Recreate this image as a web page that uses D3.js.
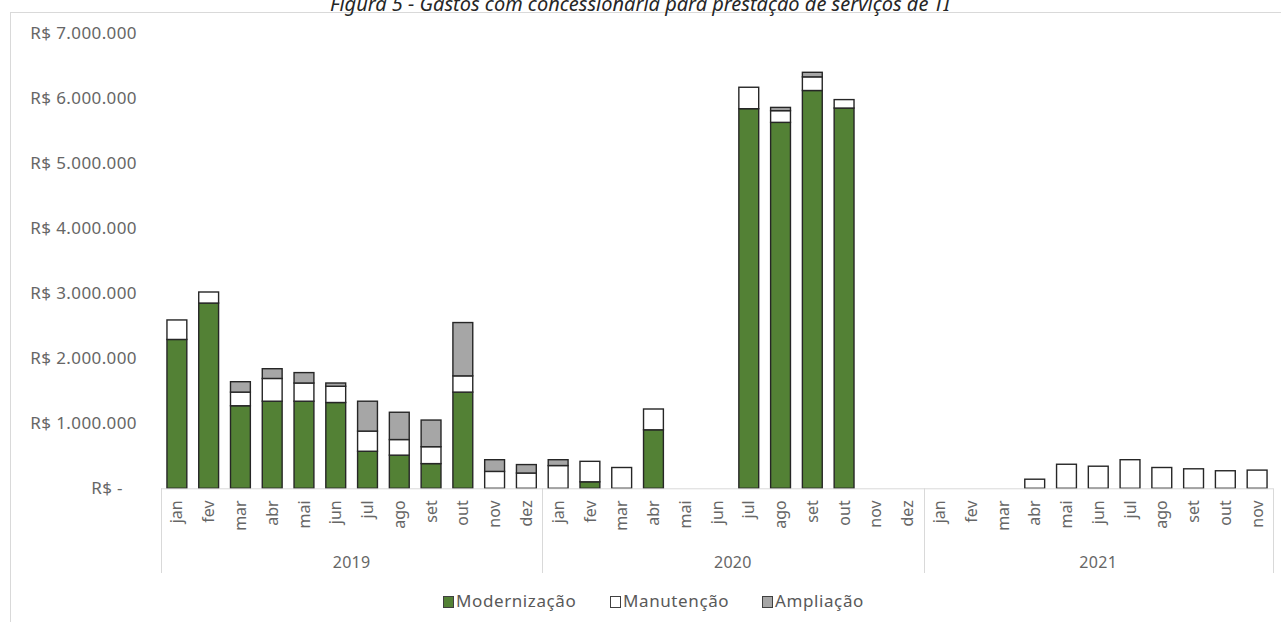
<!DOCTYPE html>
<html>
<head>
<meta charset="utf-8">
<script src="https://cdn.jsdelivr.net/npm/d3@7"></script>
<style>
  html, body { margin: 0; padding: 0; background: #fff; }
  svg { display: block; }
  text { font-family: "Noto Sans", "Open Sans", sans-serif; }
</style>
</head>
<body>
<svg id="chart" width="1281" height="622"></svg>
<script>
// Monthly spending per category (R$), Jan/2019 – Nov/2021
const years = ["2019", "2020", "2021"];
const months2019 = ["jan","fev","mar","abr","mai","jun","jul","ago","set","out","nov","dez"];
const months2020 = ["jan","fev","mar","abr","mai","jun","jul","ago","set","out","nov","dez"];
const months2021 = ["jan","fev","mar","abr","mai","jun","jul","ago","set","out","nov"];

const modernizacao = [
  2290000, 2850000, 1270000, 1340000, 1340000, 1320000, 570000, 510000, 380000, 1480000, 0, 0,
  0, 100000, 0, 900000, 0, 0, 5840000, 5630000, 6120000, 5850000, 0, 0,
  0, 0, 0, 0, 0, 0, 0, 0, 0, 0, 0
];
const manutencao = [
  300000, 170000, 210000, 350000, 280000, 250000, 310000, 240000, 260000, 250000, 260000, 235000,
  350000, 315000, 320000, 320000, 0, 0, 330000, 180000, 210000, 130000, 0, 0,
  0, 0, 0, 140000, 370000, 340000, 440000, 320000, 300000, 270000, 280000
];
const ampliacao = [
  0, 0, 160000, 150000, 160000, 50000, 460000, 420000, 410000, 820000, 180000, 130000,
  90000, 0, 0, 0, 0, 0, 0, 50000, 70000, 0, 0, 0,
  0, 0, 0, 0, 0, 0, 0, 0, 0, 0, 0
];
const yTicks = [0, 1000000, 2000000, 3000000, 4000000, 5000000, 6000000, 7000000];

const seriesNames = ["Modernização", "Manutenção", "Ampliação"];
const seriesColors = ["#538135", "#ffffff", "#a6a6a6"];

// Build flat category list: one entry per month, tagged with its year
const monthsByYear = [months2019, months2020, months2021];
const rows = [];
monthsByYear.forEach((ms, yi) => ms.forEach(m => rows.push({ key: years[yi] + "-" + m, year: years[yi], month: m })));
rows.forEach((r, i) => {
  r["Modernização"] = modernizacao[i];
  r["Manutenção"] = manutencao[i];
  r["Ampliação"] = ampliacao[i];
});

const svg = d3.select("#chart");
const axisLeft = 161, axisRight = 1273, y0 = 488.3, yTop = 33.3;

// Outer frame
svg.append("rect").attr("x", 10.5).attr("y", 12.5).attr("width", 1290).attr("height", 640)
  .attr("fill", "none").attr("stroke", "#d9d9d9").attr("stroke-width", 1);

// Title (its top runs off the page edge)
svg.append("text")
  .attr("x", 640).attr("y", 11)
  .attr("text-anchor", "middle")
  .attr("font-style", "italic")
  .attr("font-size", 20)
  .attr("fill", "#262626")
  .text("Figura 5 - Gastos com concessionária para prestação de serviços de TI");

const x = d3.scaleBand()
  .domain(rows.map(r => r.key))
  .range([axisLeft, axisRight])
  .paddingInner(0.375)
  .paddingOuter(0.1875);

const y = d3.scaleLinear().domain([0, 7000000]).range([y0, yTop]);

const fmt = v => v === 0 ? "R$ -" : "R$ " + d3.format(",")(v).replace(/,/g, ".");

// Y axis
const gy = svg.append("g").attr("transform", `translate(${137},0)`)
  .call(d3.axisLeft(y).tickValues(yTicks).tickFormat(fmt).tickSize(0).tickPadding(0));
gy.select(".domain").remove();
gy.selectAll("text")
  .attr("font-family", "'Noto Sans', sans-serif")
  .attr("font-size", 17)
  .attr("letter-spacing", 0.4)
  .attr("fill", "#666")
  .attr("dx", d => d === 0 ? -14 : 0);

// Stacked bars
const stack = d3.stack().keys(seriesNames);
const layers = stack(rows);

svg.append("g").selectAll("g")
  .data(layers)
  .join("g")
  .attr("fill", (d, i) => seriesColors[i])
  .selectAll("rect")
  .data(d => d.filter(s => s[1] - s[0] > 0))
  .join("rect")
  .attr("x", d => x(d.data.key))
  .attr("width", x.bandwidth())
  .attr("y", d => y(d[1]))
  .attr("height", d => y(d[0]) - y(d[1]))
  .attr("stroke", "#262626")
  .attr("stroke-width", 1.4);

// X axis (months)
const gx = svg.append("g").attr("transform", `translate(0,${y0})`)
  .call(d3.axisBottom(x).tickSize(0).tickFormat(k => k.split("-")[1]));
gx.select(".domain").attr("stroke", "#d9d9d9").attr("d", `M${axisLeft},0.5H${axisRight}`);
gx.selectAll("text")
  .attr("font-family", "'Noto Sans', sans-serif")
  .attr("font-size", 16)
  .attr("fill", "#666")
  .attr("transform", "rotate(-90)")
  .attr("text-anchor", "end")
  .attr("x", -12)
  .attr("y", 0)
  .attr("dy", "0.35em");

// Year group dividers and labels
const step = x.step();
const yearBounds = [];
let idx = 0;
monthsByYear.forEach((ms, yi) => {
  yearBounds.push({ year: years[yi], start: axisLeft + idx * step, end: axisLeft + (idx + ms.length) * step });
  idx += ms.length;
});
const divX = [yearBounds[0].start, ...yearBounds.map(b => b.end)];
svg.append("g").selectAll("line")
  .data(divX)
  .join("line")
  .attr("x1", d => Math.round(d) + 0.5).attr("x2", d => Math.round(d) + 0.5)
  .attr("y1", y0).attr("y2", 573)
  .attr("stroke", "#d9d9d9").attr("stroke-width", 1);

svg.append("g").selectAll("text")
  .data(yearBounds)
  .join("text")
  .attr("x", d => (d.start + d.end) / 2)
  .attr("y", 568)
  .attr("text-anchor", "middle")
  .attr("font-size", 16)
  .attr("letter-spacing", 0.3)
  .attr("fill", "#666")
  .text(d => d.year);

// Legend
const legendItems = [
  { name: seriesNames[0], color: seriesColors[0], x: 443 },
  { name: seriesNames[1], color: seriesColors[1], x: 610 },
  { name: seriesNames[2], color: seriesColors[2], x: 762 }
];
const lg = svg.append("g").selectAll("g").data(legendItems).join("g")
  .attr("transform", d => `translate(${d.x},0)`);
lg.append("rect")
  .attr("x", 0.5).attr("y", 596.5).attr("width", 10).attr("height", 11)
  .attr("fill", d => d.color).attr("stroke", "#404040").attr("stroke-width", 1);
lg.append("text")
  .attr("x", 13).attr("y", 607)
  .attr("font-size", 17)
  .attr("letter-spacing", 0.6)
  .attr("fill", "#595959")
  .text(d => d.name);
</script>
</body>
</html>
